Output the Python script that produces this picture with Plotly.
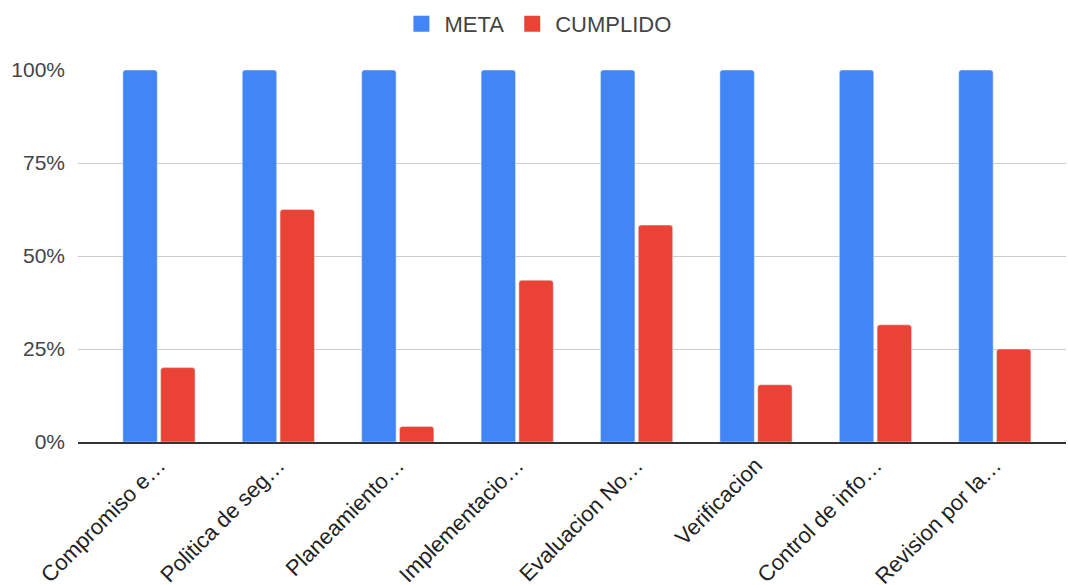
import plotly.graph_objects as go

categories = [
    "Compromiso e…", "Politica de seg…", "Planeamiento…", "Implementacio…",
    "Evaluacion No…", "Verificacion", "Control de info…", "Revision por la…",
]
meta = [1.0, 1.0, 1.0, 1.0, 1.0, 1.0, 1.0, 1.0]
cumplido = [0.20, 0.625, 0.042, 0.435, 0.583, 0.154, 0.315, 0.25]

BLUE = "#4285F4"
RED = "#EA4335"
FONT = "Liberation Sans, Arial, sans-serif"

fig = go.Figure()
fig.add_trace(go.Bar(x=categories, y=meta, name="META", marker_color=BLUE,
                     showlegend=False))
fig.add_trace(go.Bar(x=categories, y=cumplido, name="CUMPLIDO", marker_color=RED,
                     showlegend=False))

# Legend entries with larger square swatches
for name, color in [("META", BLUE), ("CUMPLIDO", RED)]:
    fig.add_trace(go.Scatter(x=[None], y=[None], mode="markers", name=name,
                             marker=dict(symbol="square", size=16, color=color)))

fig.update_layout(
    width=1068, height=585,
    margin=dict(l=78, r=2, t=70, b=143, autoexpand=False),
    paper_bgcolor="white", plot_bgcolor="white",
    barmode="group", bargap=0.367, bargroupgap=0.09,
    barcornerradius=3,
    font=dict(family=FONT, size=22, color="#222"),
    legend=dict(orientation="h", x=0.465, xanchor="center", y=1.124,
                yanchor="middle", font=dict(size=22, color="#444"),
                itemwidth=36, tracegroupgap=0),
    xaxis=dict(range=[-0.678, 7.596], tickangle=-45, showgrid=False,
               showline=True, linecolor="#333", linewidth=1.5, ticks="",
               automargin=False,
               tickfont=dict(size=22, color="#222"), fixedrange=True),
    yaxis=dict(range=[0, 1], tickformat=".0%", tickvals=[0, 0.25, 0.5, 0.75, 1],
               gridcolor="#CCCCCC", gridwidth=1, zeroline=False,
               showline=False, ticks="", ticklabelstandoff=12,
               automargin=False,
               tickfont=dict(size=21, color="#444")),
)

fig.write_html("out.html")
